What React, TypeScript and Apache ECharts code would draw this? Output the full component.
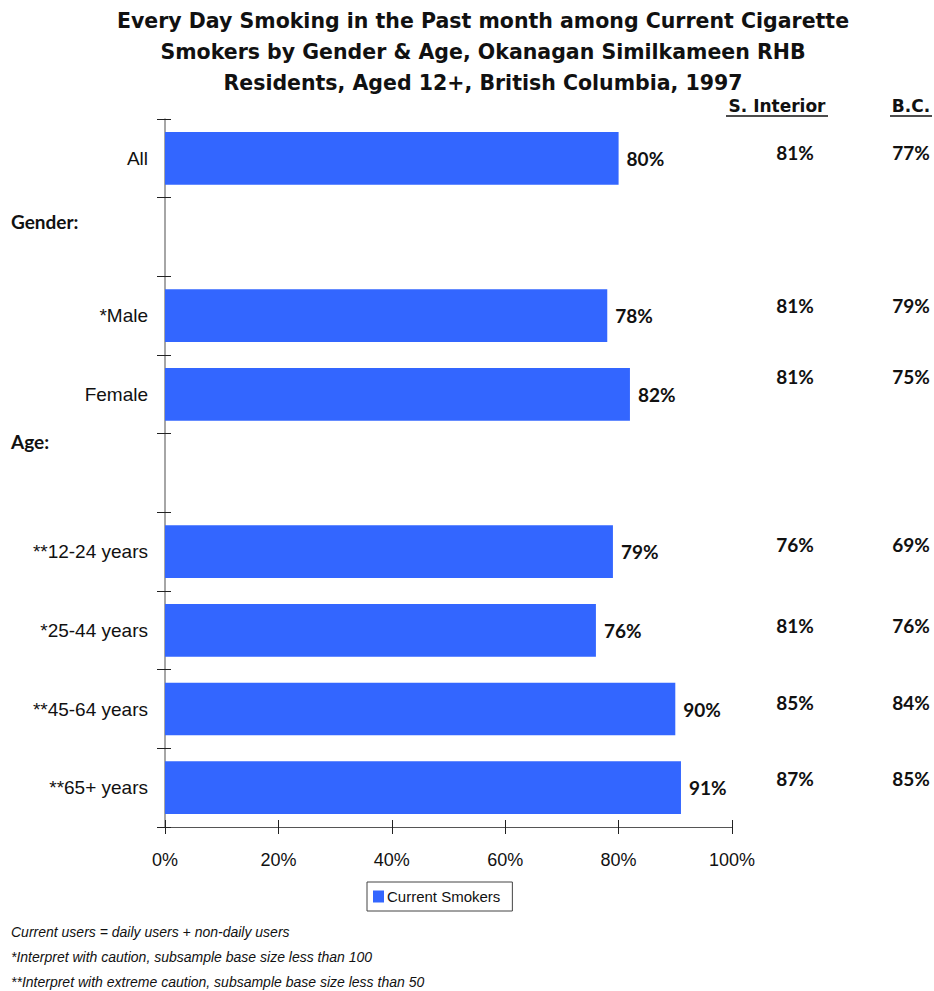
import React, { useEffect, useRef } from "react";
import * as echarts from "echarts";

const categories = ["All", "gap-gender", "*Male", "Female", "gap-age", "**12-24 years", "*25-44 years", "**45-64 years", "**65+ years"];
const currentSmokers: (number | null)[] = [80, null, 78, 82, null, 79, 76, 90, 91];
const sInterior: (number | null)[] = [81, null, 81, 81, null, 76, 81, 85, 87];
const bcValues: (number | null)[] = [77, null, 79, 75, null, 69, 76, 84, 85];
const xTicks = [0, 20, 40, 60, 80, 100];
const groupHeadings = ["Gender:", "Age:"];
const footnotes = [
  "Current users = daily users + non-daily users",
  "*Interpret with caution, subsample base size less than 100",
  "**Interpret with extreme caution, subsample base size less than 50",
];
const titleText = "Every Day Smoking in the Past month among Current Cigarette\nSmokers by Gender & Age, Okanagan Similkameen RHB\nResidents, Aged 12+, British Columbia, 1997";

// layout (not data)
const sideDy = [-6, 0, -10, -18, 0, -7, -5, -7, -9];
const headingAnchor = ["gap-gender", "gap-age"];
const headingDy = [-16, -32];

const BAR = "#3366FF";
const SANS = "Lato, 'Open Sans', sans-serif";
const WIDE = "'DejaVu Sans', Verdana, sans-serif";
const NARROW = "'Liberation Sans Narrow', 'Arial Narrow', 'Liberation Sans', sans-serif";

export default function App() {
  const ref = useRef<HTMLDivElement>(null);
  useEffect(() => {
    if (!ref.current) return;
    const chart = echarts.init(ref.current, null, { renderer: "svg" });
    const catLabel = (v: string) => (v.startsWith("gap") ? "" : v);
    chart.setOption({
      animation: false,
      backgroundColor: "#ffffff",
      title: {
        text: titleText,
        left: 478,
        top: 0,
        textAlign: "center",
        textStyle: { fontFamily: WIDE, fontWeight: "bold", fontSize: 20.5, lineHeight: 31, color: "#111" },
      },
      legend: {
        data: ["Current Smokers"],
        left: 367,
        top: 882,
        icon: "rect",
        itemWidth: 11,
        itemHeight: 12,
        itemGap: 4,
        padding: [7, 12, 7, 6],
        borderColor: "#444",
        borderWidth: 1,
        textStyle: { fontFamily: NARROW, fontSize: 15, color: "#111", padding: [0, 0, 0, -2] },
      },
      grid: { left: 165, right: 934 - 732, top: 119, bottom: 991 - 827, containLabel: false },
      xAxis: [
        {
          type: "value",
          min: 0,
          max: 100,
          interval: 20,
          position: "bottom",
          axisLine: { show: true, lineStyle: { color: "#555", width: 1 } },
          axisTick: { show: true, length: 7, lineStyle: { color: "#222" } },
          axisLabel: {
            formatter: (v: number) => (xTicks.includes(v) ? v + "%" : ""),
            margin: 24,
            fontFamily: NARROW,
            fontSize: 18,
            color: "#111",
          },
          splitLine: { show: false },
        },
        {
          type: "value",
          min: 0,
          max: 100,
          interval: 20,
          position: "bottom",
          axisLine: { show: false },
          axisTick: { show: true, inside: true, length: 7, lineStyle: { color: "#222" } },
          axisLabel: { show: false },
          splitLine: { show: false },
        },
      ],
      yAxis: [
        {
          type: "category",
          data: categories,
          inverse: true,
          axisLine: { show: true, lineStyle: { color: "#888", width: 1.5 } },
          axisTick: { show: true, length: 8, lineStyle: { color: "#222" } },
          axisLabel: { formatter: catLabel, margin: 17, fontFamily: NARROW, fontSize: 19, color: "#111" },
        },
        {
          type: "category",
          data: categories,
          inverse: true,
          position: "left",
          axisLine: { show: false },
          axisTick: { show: true, inside: true, length: 6, lineStyle: { color: "#222" } },
          axisLabel: { show: false },
        },
      ],
      series: [
        {
          name: "Current Smokers",
          type: "bar",
          xAxisIndex: 0,
          yAxisIndex: 0,
          data: currentSmokers.map((v) => (v == null ? "-" : v)),
          barWidth: "67%",
          itemStyle: { color: BAR },
          label: {
            show: true,
            position: "right",
            distance: 8,
            formatter: "{c}%",
            fontFamily: SANS,
            fontWeight: "bold",
            fontSize: 19,
            color: "#111",
          },
        },
      ],
    });

    const graphics: any[] = [];
    const colX = [795, 911];
    const headers = [
      { text: "S. Interior", x: 777, w: 102 },
      { text: "B.C.", x: 911, w: 42 },
    ];
    headers.forEach((h) => {
      graphics.push({
        type: "text",
        x: h.x,
        y: 106,
        style: { text: h.text, fontFamily: WIDE, fontWeight: "bold", fontSize: 17, fill: "#111", align: "center", verticalAlign: "middle" },
      });
      graphics.push({
        type: "line",
        shape: { x1: h.x - h.w / 2, y1: 116, x2: h.x + h.w / 2, y2: 116 },
        style: { stroke: "#111", lineWidth: 1.5 },
      });
    });
    [sInterior, bcValues].forEach((arr, ci) => {
      arr.forEach((v, i) => {
        if (v == null) return;
        const y = chart.convertToPixel({ yAxisIndex: 0 }, categories[i]) as number;
        graphics.push({
          type: "text",
          x: colX[ci],
          y: y + sideDy[i],
          style: { text: v + "%", fontFamily: SANS, fontWeight: "bold", fontSize: 19, fill: "#111", align: "center", verticalAlign: "middle" },
        });
      });
    });
    groupHeadings.forEach((g, i) => {
      const y = chart.convertToPixel({ yAxisIndex: 0 }, headingAnchor[i]) as number;
      graphics.push({
        type: "text",
        x: 11,
        y: y + headingDy[i],
        style: { text: g, fontFamily: SANS, fontWeight: "bold", fontSize: 19, fill: "#111", align: "left", verticalAlign: "middle" },
      });
    });
    footnotes.forEach((f, i) => {
      graphics.push({
        type: "text",
        x: 11,
        y: 932 + i * 25,
        style: { text: f, fontFamily: NARROW, fontStyle: "italic", fontSize: 14, fill: "#111", align: "left", verticalAlign: "middle" },
      });
    });
    chart.setOption({ graphic: graphics });

    return () => chart.dispose();
  }, []);
  return <div ref={ref} style={{ position: "fixed", left: 0, top: 0, width: 934, height: 991 }} />;
}
